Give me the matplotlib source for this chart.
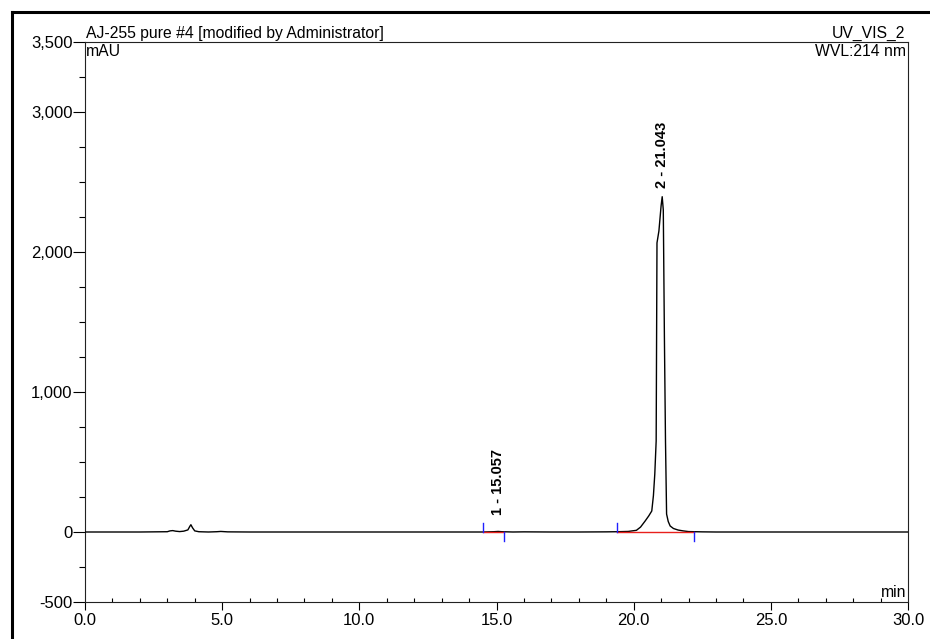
import matplotlib
matplotlib.use('Agg')
import matplotlib.pyplot as plt
from matplotlib.lines import Line2D
from matplotlib.ticker import FuncFormatter, MultipleLocator, FixedLocator

plt.rcParams['font.family'] = ['Liberation Sans', 'DejaVu Sans']
plt.rcParams['axes.unicode_minus'] = False

# chromatogram trace (min, mAU)
t = [0.0, 2.0, 3.0, 3.1, 3.2, 3.3, 3.45, 3.6, 3.75, 3.82, 3.86, 3.92, 4.0, 4.15, 4.5,
     4.8, 4.95, 5.2, 6.0, 8.0, 10.0, 12.0, 14.0, 14.5, 14.9, 15.06, 15.2, 15.6, 16.0,
     17.0, 18.0, 19.0, 19.4, 19.8, 20.1, 20.25, 20.42, 20.55, 20.66, 20.72, 20.77,
     20.82, 20.85, 20.92, 21.0, 21.04, 21.08, 21.12, 21.16, 21.2, 21.26, 21.33, 21.45,
     21.62, 21.8, 22.0, 22.5, 23.0, 25.0, 27.0, 30.0]
signal = [0, 0, 2, 8, 10, 6, 3, 6, 15, 40, 52, 30, 8, 2, 0,
          2, 4, 1, 0, 0, 0, 0, 0, 0, 2, 4, 2, 0, 1,
          0, 0, 1, 2, 4, 12, 35, 79, 115, 150, 260, 414,
          650, 2065, 2150, 2330, 2395, 2300, 1400, 650, 128, 75, 43, 25,
          14, 8, 3, 1, 0, 0, 0, 0]

peak_names = ['1 - 15.057', '2 - 21.043']
peak_times = [15.057, 21.043]
peak_label_y = [120, 2460]
delim_start = [14.5, 19.4]
delim_end = [15.29, 22.19]

fig = plt.figure(figsize=(9.3, 6.39), dpi=100)
ax = fig.add_axes([85 / 930, 37 / 639, 823 / 930, 560 / 639])

# outer frame of the report
fig.add_artist(Line2D([12 / 930, 12 / 930], [0, 1 - 12 / 639], color='black', lw=2.2,
                      transform=fig.transFigure))
fig.add_artist(Line2D([12 / 930, 1], [1 - 12 / 639, 1 - 12 / 639], color='black', lw=2.2,
                      transform=fig.transFigure))

ax.plot(t, signal, color='black', lw=1.0, zorder=3)

for s, e in zip(delim_start, delim_end):
    ax.plot([s, e], [0, 0], color='#e8201c', lw=1.0, zorder=4)
    ax.plot([s, s], [0, 65], color='#2020ff', lw=1.0, zorder=4)
    ax.plot([e, e], [0, -62], color='#2020ff', lw=1.0, zorder=4)

for name, pt, py in zip(peak_names, peak_times, peak_label_y):
    ax.text(pt, py, name, rotation=90, ha='center', va='bottom', fontsize=10.5,
            fontweight='bold')

ax.set_xlim(0, 30)
ax.set_ylim(-500, 3500)

ax.xaxis.set_major_locator(MultipleLocator(5))
ax.xaxis.set_minor_locator(MultipleLocator(1))
ax.xaxis.set_major_formatter(FuncFormatter(lambda v, p: '%.1f' % v))
ax.tick_params(axis='x', which='major', direction='out', length=6, width=0.8, labelsize=12, pad=2)
ax.tick_params(axis='x', which='minor', direction='in', length=3, width=0.8)

ax.yaxis.set_major_locator(FixedLocator([-500, 0, 1000, 2000, 3000, 3500]))
ax.yaxis.set_minor_locator(FixedLocator([-250, 250, 500, 750, 1250, 1500, 1750, 2250,
                                         2500, 2750, 3250]))
ax.yaxis.set_major_formatter(FuncFormatter(lambda v, p: '{:,.0f}'.format(v)))
ax.tick_params(axis='y', which='major', direction='out', length=9, width=0.8, labelsize=12, pad=0)
ax.tick_params(axis='y', which='minor', direction='out', length=4, width=0.8)

for sp in ax.spines.values():
    sp.set_linewidth(0.8)
    sp.set_color('#222222')

ax.text(0.001, 1.002, 'AJ-255 pure #4 [modified by Administrator]', transform=ax.transAxes,
        ha='left', va='bottom', fontsize=11.3)
ax.text(0.997, 1.002, 'UV_VIS_2', transform=ax.transAxes, ha='right', va='bottom', fontsize=11.3)
ax.text(0.001, 0.997, 'mAU', transform=ax.transAxes, ha='left', va='top', fontsize=11.3)
ax.text(0.998, 0.997, 'WVL:214 nm', transform=ax.transAxes, ha='right', va='top', fontsize=11.3)
ax.text(0.998, 0.004, 'min', transform=ax.transAxes, ha='right', va='bottom', fontsize=11.3)

fig.savefig('out.png', dpi=100)
